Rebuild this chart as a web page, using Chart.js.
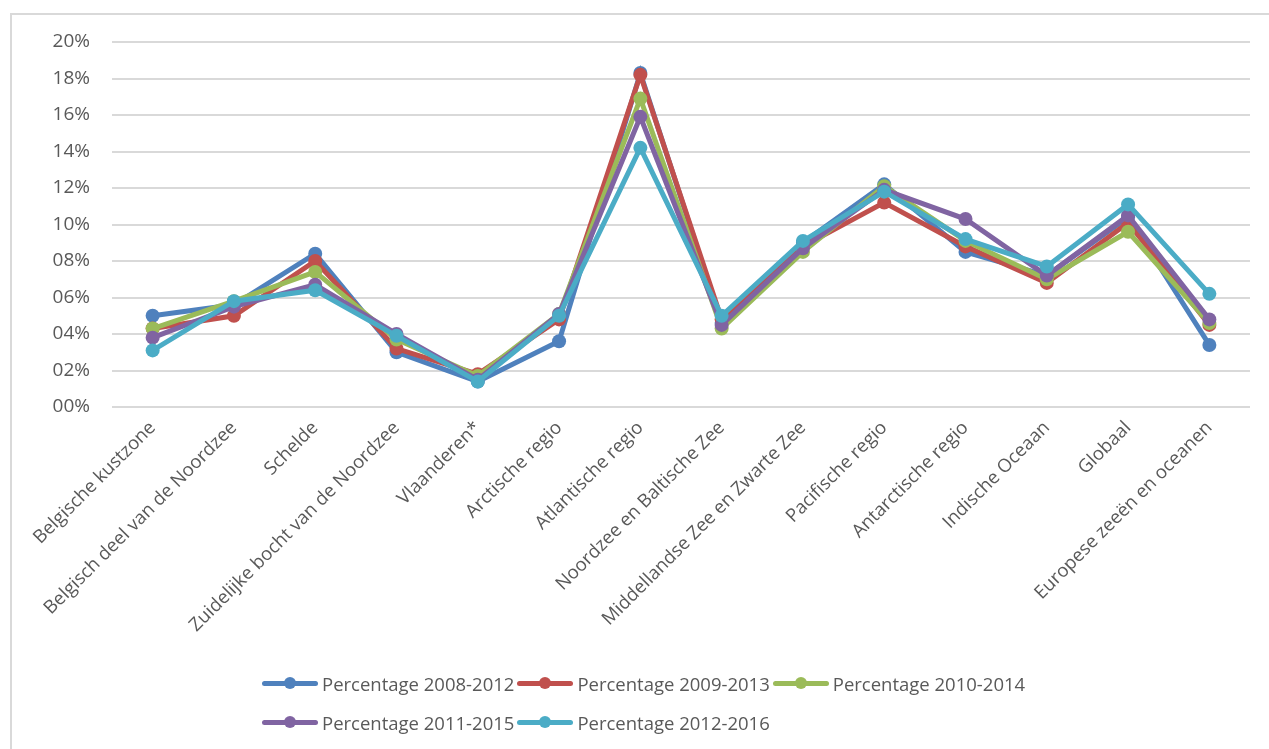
<!DOCTYPE html>
<html>
<head>
<meta charset="utf-8">
<script src="https://cdn.jsdelivr.net/npm/chart.js@4/dist/chart.umd.min.js"></script>
<style>
  html, body { margin: 0; padding: 0; background: #fff; }
  #wrap { position: relative; width: 1269px; height: 749px; overflow: hidden; }
  #frame { position: absolute; left: 10px; top: 13px; width: 1400px; height: 900px;
           border-left: 2px solid #d9d9d9; border-top: 2px solid #d9d9d9; }
  #legend { position: absolute; left: 262px; top: 664px; width: 820px;
            display: flex; flex-wrap: wrap; font-family: 'Open Sans', sans-serif;
            font-size: 18.5px; color: #595959; }
  .item { display: flex; align-items: center; height: 39px; margin-right: 3px; }
  .swatch { position: relative; width: 56px; height: 5px; border-radius: 3px; margin-right: 4px; }
  .swatch span { position: absolute; left: 22px; top: -4px; width: 12px; height: 12px; border-radius: 50%; }
</style>
</head>
<body>
<div id="wrap">
  <div id="frame"></div>
  <canvas id="c" width="1269" height="749"></canvas>
  <div id="legend"></div>
</div>
<script>
const categories = ['Belgische kustzone', 'Belgisch deel van de Noordzee', 'Schelde',
  'Zuidelijke bocht van de Noordzee', 'Vlaanderen*', 'Arctische regio', 'Atlantische regio',
  'Noordzee en Baltische Zee', 'Middellandse Zee en Zwarte Zee', 'Pacifische regio',
  'Antarctische regio', 'Indische Oceaan', 'Globaal', 'Europese zeeën en oceanen'];

const seriesNames = ['Percentage 2008-2012', 'Percentage 2009-2013', 'Percentage 2010-2014',
  'Percentage 2011-2015', 'Percentage 2012-2016'];

const p2008 = [5.0, 5.6, 8.4, 3.0, 1.4, 3.6, 18.3, 4.6, 9.0, 12.2, 8.5, 7.2, 10.4, 3.4];
const p2009 = [4.3, 5.0, 8.0, 3.2, 1.8, 4.8, 18.2, 4.8, 8.8, 11.2, 8.8, 6.8, 10.1, 4.5];
const p2010 = [4.3, 5.8, 7.4, 3.7, 1.7, 5.1, 16.9, 4.3, 8.5, 12.1, 9.1, 7.0, 9.6, 4.6];
const p2011 = [3.8, 5.5, 6.7, 4.0, 1.5, 5.1, 15.9, 4.5, 8.7, 11.9, 10.3, 7.2, 10.5, 4.8];
const p2012 = [3.1, 5.8, 6.4, 3.9, 1.4, 5.0, 14.2, 5.0, 9.1, 11.8, 9.2, 7.7, 11.1, 6.2];

const colors = ['#4f81bd', '#c0504d', '#9bbb59', '#8064a2', '#4bacc6'];
const yTicks = [0, 2, 4, 6, 8, 10, 12, 14, 16, 18, 20];

const allSeries = [p2008, p2009, p2010, p2011, p2012];

const chart = new Chart(document.getElementById('c').getContext('2d'), {
  type: 'line',
  data: {
    labels: categories,
    datasets: allSeries.map((d, i) => ({
      label: seriesNames[i],
      data: d,
      order: allSeries.length - i, // later series drawn on top, like the original
      borderColor: colors[i],
      backgroundColor: colors[i],
      borderWidth: 5,
      pointRadius: 7,
      pointBorderWidth: 0,
      tension: 0,
    })),
  },
  options: {
    responsive: false,
    animation: false,
    layout: { padding: { top: 42, right: 19, left: 0, bottom: 0 } },
    plugins: { legend: { display: false }, tooltip: { enabled: false } },
    scales: {
      x: {
        offset: true,
        grid: { display: false },
        border: { display: false },
        ticks: {
          color: '#595959',
          font: { family: 'Open Sans', size: 18.5 },
          minRotation: 45,
          maxRotation: 45,
          autoSkip: false,
          padding: 2,
        },
        afterFit: (s) => { s.height = 342; },
      },
      y: {
        min: 0,
        max: 20,
        afterBuildTicks: (s) => { s.ticks = yTicks.map(v => ({ value: v })); },
        grid: { color: '#d9d9d9', lineWidth: 2, drawTicks: false },
        border: { display: false },
        ticks: {
          color: '#595959',
          font: { family: 'Open Sans', size: 19 },
          padding: 22,
          callback: (v) => String(v).padStart(2, '0') + '%',
        },
        afterFit: (s) => { s.width = 112; },
      },
    },
  },
});

const legend = document.getElementById('legend');
chart.data.datasets.forEach((ds) => {
  const item = document.createElement('div');
  item.className = 'item';
  item.innerHTML = '<div class="swatch" style="background:' + ds.borderColor + '"><span style="background:' +
    ds.borderColor + '"></span></div>' + ds.label;
  legend.appendChild(item);
});
</script>
</body>
</html>
